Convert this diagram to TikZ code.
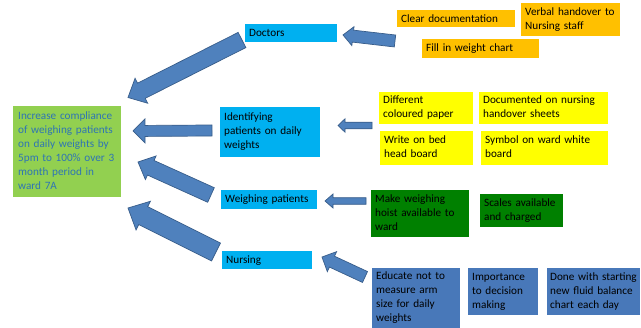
\documentclass[tikz,border=0pt]{standalone}
\usepackage{fontspec}
\setmainfont{Carlito}
\usetikzlibrary{calc}

\definecolor{goalgreen}{RGB}{146,208,80}
\definecolor{goaltext}{RGB}{46,116,181}
\definecolor{areacyan}{RGB}{0,176,240}
\definecolor{docorange}{RGB}{255,192,0}
\definecolor{idyellow}{RGB}{255,255,0}
\definecolor{weighgreen}{RGB}{0,128,0}
\definecolor{nursesteel}{RGB}{72,120,185}
\definecolor{arrowblue}{RGB}{79,129,189}
\definecolor{arrowedge}{RGB}{56,93,138}

\tikzset{
  box/.style={anchor=north west, inner xsep=4pt, inner ysep=1pt, align=left,
    font=\fontsize{11.2}{14}\selectfont, text=black},
  barrow/.style={fill=arrowblue, draw=arrowedge, line width=0.7pt, line join=miter}
}

% Lines of a box, kept unbroken and left-aligned
\newcommand\boxlines[1]{\begin{tabular}{@{}l@{}}#1\end{tabular}}

% Block arrow: #1 tail, #2 tip, #3 shaft half-width, #4 head half-width, #5 head length
\newcommand\blockarrow[5]{%
  \coordinate (neck) at ($(#2)!#5!(#1)$);
  \filldraw[barrow] ($(#1)!#3!90:(#2)$) -- ($(neck)!#3!90:(#2)$) -- ($(neck)!#4!90:(#2)$)
    -- (#2) -- ($(neck)!#4!-90:(#2)$) -- ($(neck)!#3!-90:(#2)$) -- ($(#1)!#3!-90:(#2)$) -- cycle;
}

\begin{document}
\begin{tikzpicture}[x=1pt, y=-1pt]
\useasboundingbox (0,0) rectangle (641,328);
\fill[white] (0,0) rectangle (641,328);

% aim
\node[box, fill=goalgreen, text=goaltext, inner xsep=5pt, text width=98pt, minimum height=91pt] (goal) at (13,106)
  {\boxlines{Increase compliance\\of weighing patients\\on daily weights by\\5pm to 100\% over 3\\month period in\\ward 7A}};

% primary drivers
\node[box, fill=areacyan, text width=84pt, minimum height=18pt] (doctors) at (245,24) {Doctors};
\node[box, fill=areacyan, text width=92pt, minimum height=50pt] (identify) at (220,107) {\boxlines{Identifying\\patients on daily\\weights}};
\node[box, fill=areacyan, text width=88pt, minimum height=19pt] (weighing) at (221,190) {Weighing patients};
\node[box, fill=areacyan, text width=82pt, minimum height=18pt] (nursing) at (222,251) {Nursing};

% doctors' changes
\node[box, fill=docorange, text width=110pt, minimum height=17pt] (cleardoc) at (397,10) {Clear documentation};
\node[box, fill=docorange, text width=91pt, minimum height=33pt] (verbal) at (521,3) {\boxlines{Verbal handover to\\Nursing staff}};
\node[box, fill=docorange, text width=109pt, minimum height=19pt] (fillchart) at (422,39) {Fill in weight chart};

% identification changes
\node[box, fill=idyellow, text width=86pt, minimum height=32pt] (paper) at (379,92) {\boxlines{Different\\coloured paper}};
\node[box, fill=idyellow, text width=121pt, minimum height=32pt] (sheets) at (479,92) {\boxlines{Documented on nursing\\handover sheets}};
\node[box, fill=idyellow, text width=85pt, minimum height=34pt] (bedhead) at (380,131) {\boxlines{Write on bed\\head board}};
\node[box, fill=idyellow, text width=119pt, minimum height=34pt] (whiteboard) at (481,131) {\boxlines{Symbol on ward white\\board}};

% weighing changes
\node[box, fill=weighgreen, text width=90pt, minimum height=47pt] (hoist) at (371,190) {\boxlines{Make weighing\\hoist available to\\ward}};
\node[box, fill=weighgreen, text width=75pt, minimum height=33pt] (scales) at (480,194) {\boxlines{Scales available\\and charged}};

% nursing changes
\node[box, fill=nursesteel, text width=80pt, minimum height=60pt] (educate) at (372,268) {\boxlines{Educate not to\\measure arm\\size for daily\\weights}};
\node[box, fill=nursesteel, text width=62pt, minimum height=47pt] (importance) at (468,268) {\boxlines{Importance\\to decision\\making}};
\node[box, fill=nursesteel, inner xsep=3pt, text width=87pt, minimum height=47pt] (fluid) at (547,268) {\boxlines{Done with starting\\new fluid balance\\chart each day}};

% arrow end points
\coordinate (docT) at (242,40);   \coordinate (docH) at (128,97.5);
\coordinate (ordT) at (395,41);   \coordinate (ordH) at (343,35);
\coordinate (idT) at (212,130.5); \coordinate (idH) at (133,131);
\coordinate (yeT) at (372,125.5); \coordinate (yeH) at (338,125.5);
\coordinate (weT) at (211,195);   \coordinate (weH) at (138,162);
\coordinate (nuT) at (216,252);   \coordinate (nuH) at (128,208);
\coordinate (grT) at (366,201);   \coordinate (grH) at (325,201);
\coordinate (blT) at (365,277);   \coordinate (blH) at (322,257);

\blockarrow{docT}{docH}{8.5pt}{14pt}{15pt}
\blockarrow{ordT}{ordH}{6pt}{9.5pt}{10pt}
\blockarrow{idT}{idH}{5.5pt}{12pt}{12pt}
\blockarrow{yeT}{yeH}{3.3pt}{6.7pt}{7pt}
\blockarrow{weT}{weH}{8pt}{13pt}{14pt}
\blockarrow{nuT}{nuH}{10pt}{16pt}{17pt}
\blockarrow{grT}{grH}{3.3pt}{7pt}{8pt}
\blockarrow{blT}{blH}{6pt}{11pt}{11pt}
\end{tikzpicture}
\end{document}
